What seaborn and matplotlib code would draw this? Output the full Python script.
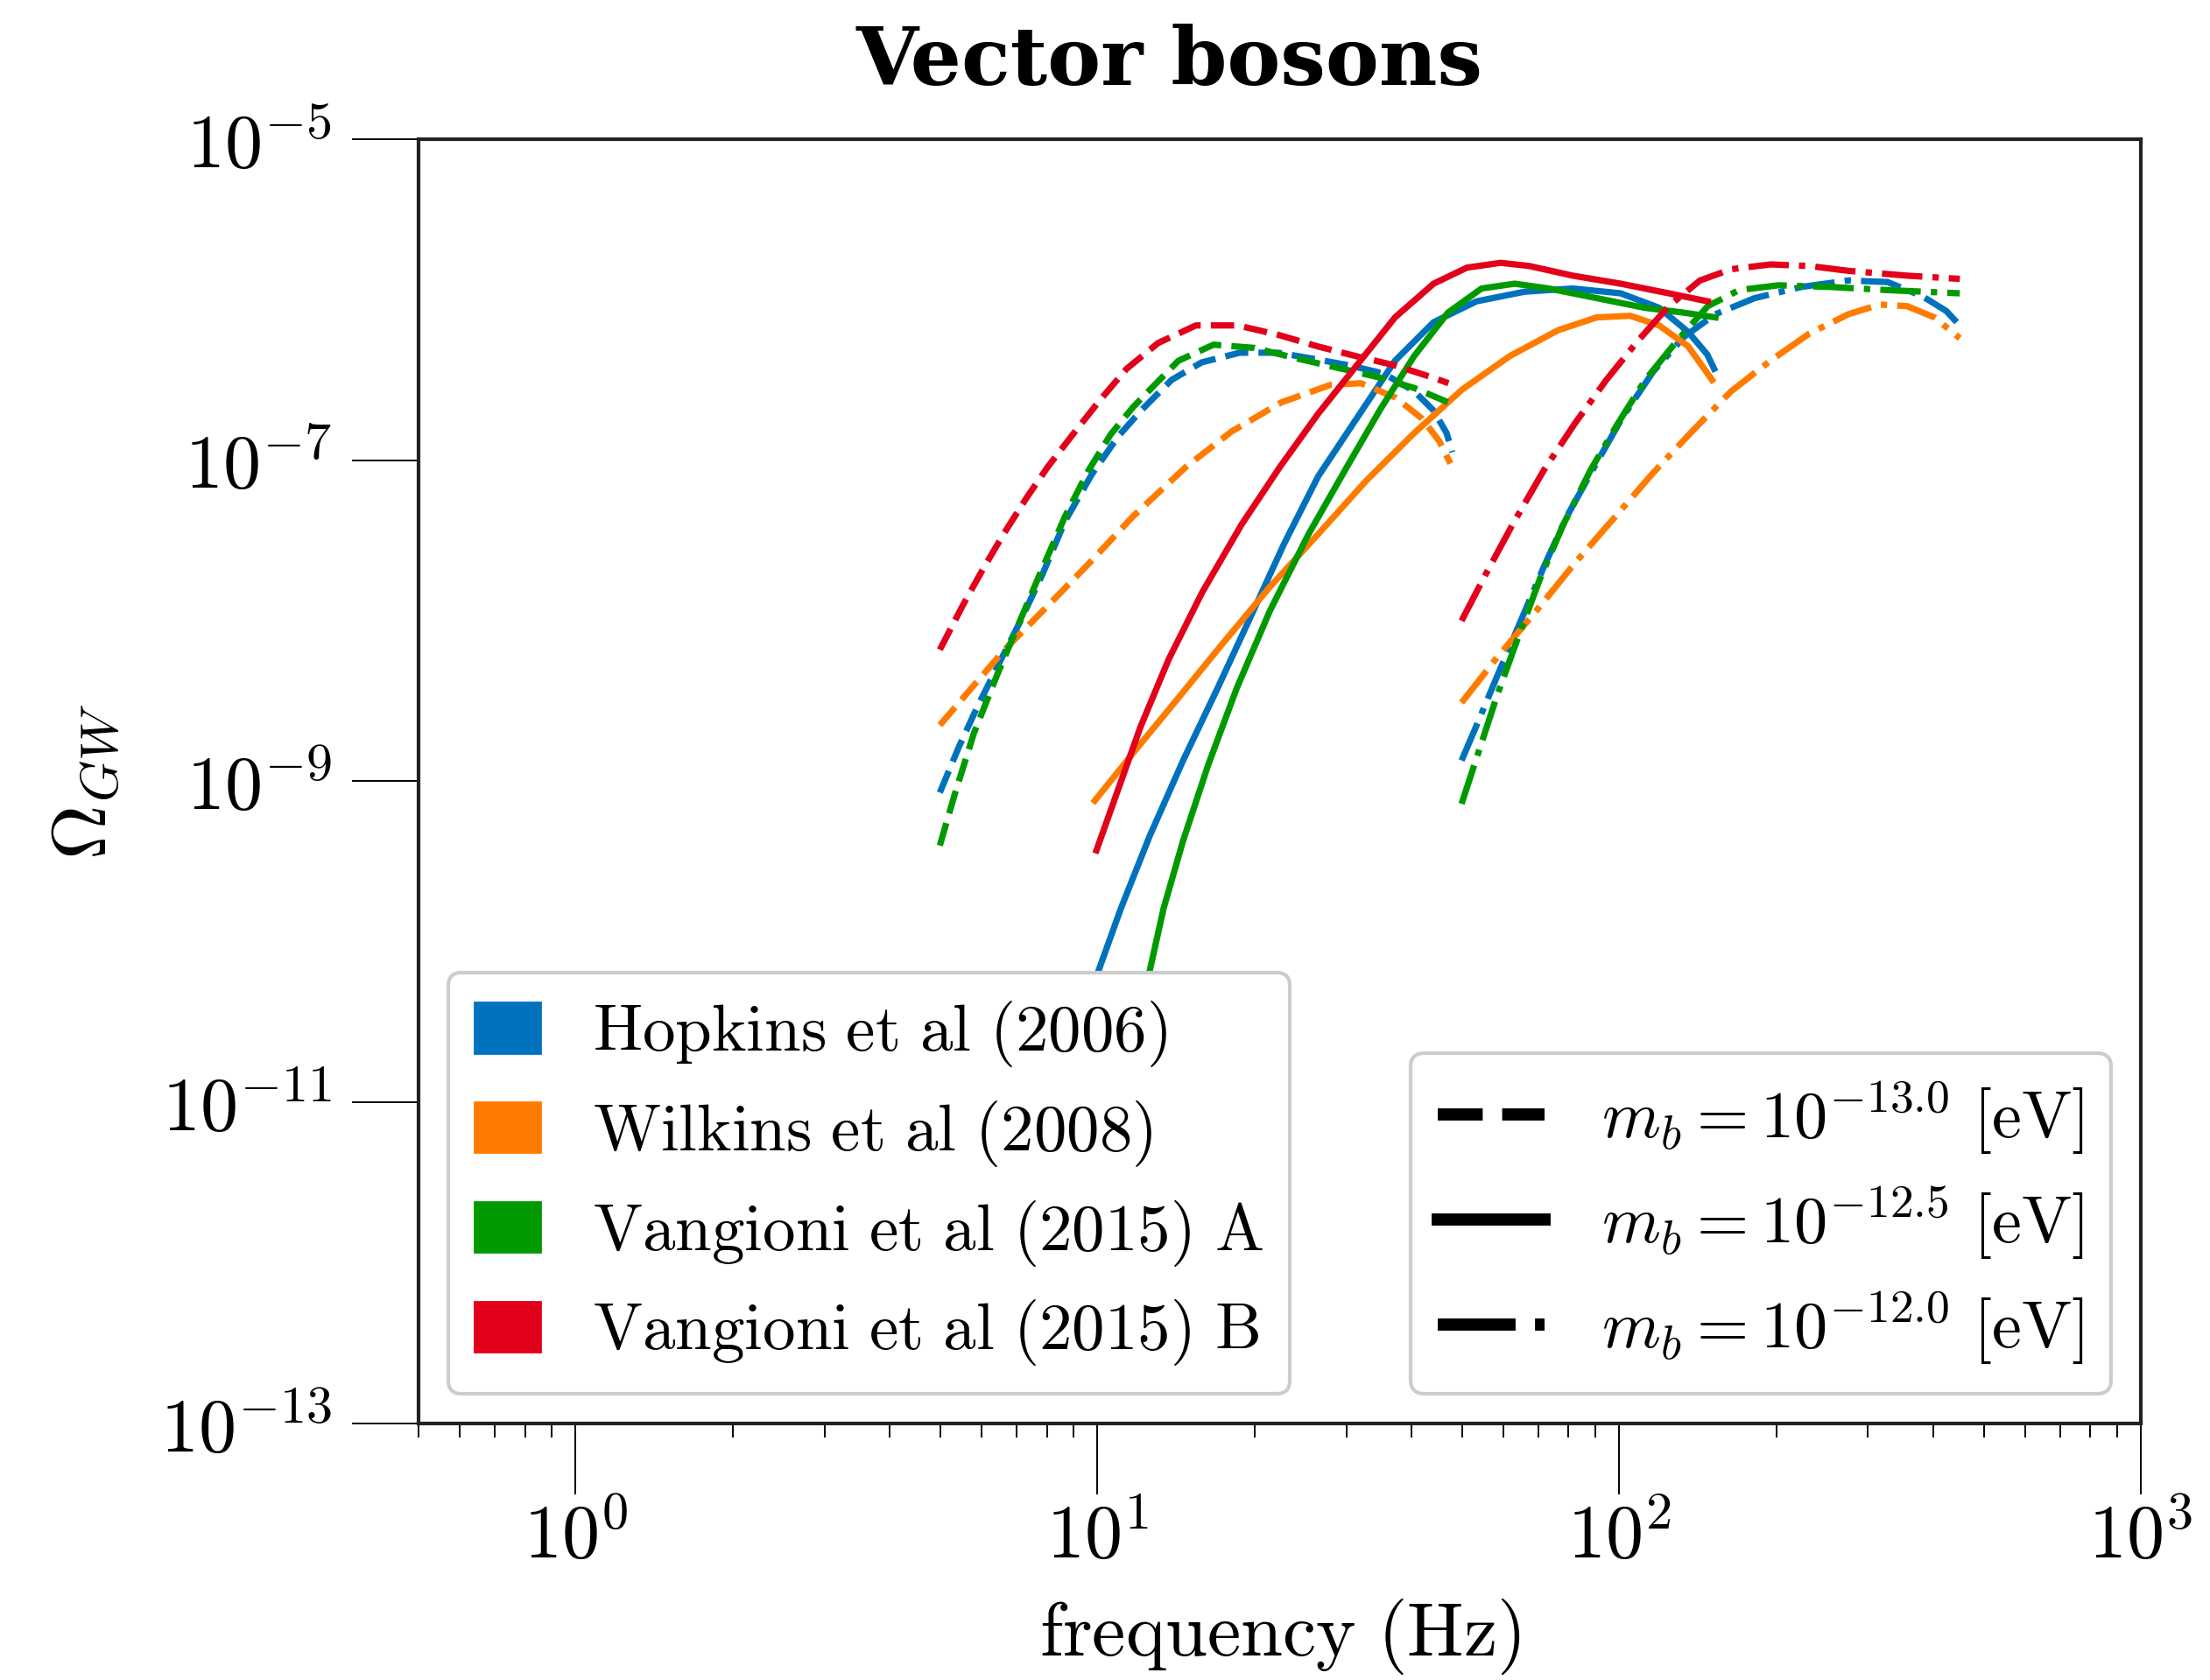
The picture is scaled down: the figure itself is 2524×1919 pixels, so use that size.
import numpy as np
import pandas as pd
import matplotlib
matplotlib.use("Agg")
import matplotlib.pyplot as plt
from matplotlib.patches import Patch
from matplotlib.lines import Line2D
from matplotlib.ticker import NullLocator
import seaborn as sns

# ---------------- data (log10 of Omega_GW) ----------------
models = ["Hopkins et al (2006)", "Wilkins et al (2008)",
          "Vangioni et al (2015) A", "Vangioni et al (2015) B"]
masses = ["-13.0", "-12.5", "-12.0"]

# m_b = 1e-13.0 eV (dashed)
hop_130_f = [4.99, 5.42, 5.90, 6.47, 7.10, 7.85, 8.67, 9.75, 10.97, 12.13, 13.87, 15.85,
             18.75, 22.2, 26.2, 30.5, 35.4, 40.5, 44.1, 46.7, 47.9]
hop_130_log = [-9.07, -8.79, -8.53, -8.27, -8.01, -7.71, -7.38, -7.09, -6.85, -6.69, -6.50, -6.39,
               -6.33, -6.33, -6.37, -6.41, -6.46, -6.57, -6.69, -6.83, -6.95]
wil_130_f = [4.99, 5.70, 6.64, 7.85, 9.59, 11.7, 14.8, 18.1, 22.5, 28.0, 32.0, 37.3, 41.9, 45.2, 47.5]
wil_130_log = [-8.65, -8.43, -8.18, -7.94, -7.65, -7.35, -7.04, -6.82, -6.64, -6.53, -6.52,
               -6.61, -6.74, -6.88, -7.02]
vaA_130_f = [4.99, 5.33, 5.80, 6.42, 6.98, 7.71, 8.67, 9.59, 10.6, 11.7, 12.97, 14.3, 16.7,
             20.0, 23.7, 28.5, 34.3, 40.5, 47.1]
vaA_130_log = [-9.40, -9.08, -8.70, -8.34, -8.06, -7.73, -7.35, -7.07, -6.84, -6.67, -6.52,
               -6.38, -6.28, -6.30, -6.36, -6.42, -6.48, -6.55, -6.64]
vaB_130_f = [4.99, 5.53, 6.08, 6.64, 7.33, 8.04, 8.97, 10.09, 11.38, 13.07, 15.45, 18.58,
             22.3, 26.4, 31.2, 37.3, 44.4, 47.1]
vaB_130_log = [-8.18, -7.90, -7.66, -7.45, -7.23, -7.04, -6.84, -6.63, -6.43, -6.27, -6.16,
               -6.16, -6.22, -6.29, -6.35, -6.41, -6.49, -6.52]

# m_b = 1e-12.5 eV (solid)
hop_125_f = [10.0, 11.1, 12.6, 14.6, 17.0, 19.7, 22.8, 26.5, 31.4, 37.2, 44.1, 53.3, 65.9,
             81.5, 100.7, 119.3, 135.6, 147.5, 152.1]
hop_125_log = [-10.20, -9.79, -9.34, -8.87, -8.42, -7.97, -7.52, -7.10, -6.74, -6.38, -6.14,
               -6.01, -5.95, -5.93, -5.96, -6.05, -6.20, -6.34, -6.43]
wil_125_f = [9.89, 11.8, 14.3, 17.3, 21.4, 26.5, 32.7, 40.5, 50.0, 61.8, 76.4, 90.6, 105.0,
             119.3, 135.6, 150.8]
wil_125_log = [-9.12, -8.81, -8.48, -8.15, -7.79, -7.46, -7.13, -6.83, -6.56, -6.35, -6.19,
               -6.11, -6.10, -6.16, -6.29, -6.50]
vaA_125_f = [10.0, 11.2, 12.6, 13.4, 14.6, 16.3, 18.5, 21.4, 25.4, 30.1, 34.9, 40.5, 47.0,
             54.5, 63.1, 73.3, 90.6, 111.9, 132.7, 153.0]
vaA_125_log = [-11.50, -10.80, -10.18, -9.79, -9.37, -8.90, -8.42, -7.94, -7.46, -7.04, -6.68,
               -6.35, -6.08, -5.93, -5.90, -5.93, -5.99, -6.05, -6.08, -6.11]
vaB_125_f = [9.96, 10.88, 12.1, 13.7, 15.9, 18.9, 22.4, 26.5, 31.4, 37.2, 44.1, 51.1, 59.3,
             67.3, 81.5, 100.7, 124.5, 147.9]
vaB_125_log = [-9.43, -9.08, -8.66, -8.24, -7.82, -7.40, -7.04, -6.71, -6.41, -6.11, -5.90,
               -5.80, -5.77, -5.79, -5.85, -5.90, -5.96, -6.01]

# m_b = 1e-12.0 eV (dash-dot)
hop_120_f = [49.9, 53.5, 58.3, 64.6, 71.6, 79.4, 89.7, 101.2, 116.1, 133.3, 153.0, 181.9,
             223.9, 275.2, 327.2, 382.2, 423.6, 449.8]
hop_120_log = [-8.87, -8.64, -8.35, -8.01, -7.67, -7.35, -7.04, -6.74, -6.45, -6.23, -6.09,
               -5.99, -5.92, -5.88, -5.89, -5.98, -6.07, -6.16]
wil_120_f = [49.9, 58.3, 69.3, 82.3, 97.8, 116.1, 138.0, 164.0, 195.0, 231.7, 275.2, 316.0,
             356.5, 402.0, 449.8]
wil_120_log = [-8.51, -8.23, -7.94, -7.64, -7.36, -7.08, -6.82, -6.57, -6.38, -6.21, -6.09,
               -6.03, -6.04, -6.11, -6.24]
vaA_120_f = [49.9, 53.5, 58.3, 63.6, 70.5, 78.2, 88.2, 99.5, 112.2, 128.8, 147.9, 169.8,
             201.8, 252.5, 327.2, 449.8]
vaA_120_log = [-9.14, -8.84, -8.47, -8.13, -7.74, -7.40, -7.06, -6.77, -6.50, -6.26, -6.04,
               -5.94, -5.91, -5.92, -5.94, -5.96]
vaB_120_f = [49.9, 55.3, 62.5, 71.8, 82.3, 94.5, 108.4, 124.5, 142.9, 164.0, 195.0, 231.7,
             275.2, 356.5, 449.8]
vaB_120_log = [-8.00, -7.72, -7.40, -7.06, -6.77, -6.50, -6.26, -6.04, -5.88, -5.81, -5.78,
               -5.79, -5.82, -5.85, -5.87]

xtick_values = [1e0, 1e1, 1e2, 1e3]
xtick_labels = [r"$10^{0}$", r"$10^{1}$", r"$10^{2}$", r"$10^{3}$"]
ytick_values = [1e-13, 1e-11, 1e-9, 1e-7, 1e-5]
ytick_labels = [r"$10^{-13}$", r"$10^{-11}$", r"$10^{-9}$", r"$10^{-7}$", r"$10^{-5}$"]

mass_labels = [r"$m_b = 10^{-13.0}\ [\mathrm{eV}]$",
               r"$m_b = 10^{-12.5}\ [\mathrm{eV}]$",
               r"$m_b = 10^{-12.0}\ [\mathrm{eV}]$"]

# ---------------- build long table ----------------
series = {
    (models[0], masses[0]): (hop_130_f, hop_130_log),
    (models[1], masses[0]): (wil_130_f, wil_130_log),
    (models[2], masses[0]): (vaA_130_f, vaA_130_log),
    (models[3], masses[0]): (vaB_130_f, vaB_130_log),
    (models[0], masses[1]): (hop_125_f, hop_125_log),
    (models[1], masses[1]): (wil_125_f, wil_125_log),
    (models[2], masses[1]): (vaA_125_f, vaA_125_log),
    (models[3], masses[1]): (vaB_125_f, vaB_125_log),
    (models[0], masses[2]): (hop_120_f, hop_120_log),
    (models[1], masses[2]): (wil_120_f, wil_120_log),
    (models[2], masses[2]): (vaA_120_f, vaA_120_log),
    (models[3], masses[2]): (vaB_120_f, vaB_120_log),
}
rows = []
for (model, mass), (fs, logs) in series.items():
    for f, lg in zip(fs, logs):
        rows.append({"model": model, "mass": mass, "f": f, "omega": 10.0 ** lg})
df = pd.DataFrame(rows)

colors = {models[0]: "#0072bd", models[1]: "#ff7b00",
          models[2]: "#009a00", models[3]: "#e3001a"}
dash_styles = {"-13.0": (3.7, 1.6), "-12.5": "", "-12.0": (6.4, 1.6, 1.0, 1.6)}

# ---------------- figure ----------------
plt.rcParams["mathtext.fontset"] = "cm"
plt.rcParams["font.family"] = ["DejaVu Serif"]

DPI = 200
fig = plt.figure(figsize=(2524 / DPI, 1919 / DPI), dpi=DPI)
ax = fig.add_axes([478 / 2524, 1 - 1626 / 1919, (2445 - 478) / 2524, (1626 - 159) / 1919])

sns.lineplot(data=df, x="f", y="omega", hue="model", style="mass",
             hue_order=models, style_order=masses, palette=colors,
             dashes=dash_styles, estimator=None, sort=True, lw=2.6,
             legend=False, ax=ax)
for ln in ax.get_lines():
    ln.set_solid_joinstyle("round")
    ln.set_dash_joinstyle("round")

ax.set_xscale("log")
ax.set_yscale("log")
ax.set_xlim(0.5, 1000)
ax.set_ylim(1e-13, 1e-5)

ax.set_xticks(xtick_values, labels=xtick_labels)
ax.set_yticks(ytick_values, labels=ytick_labels)
ax.yaxis.set_minor_locator(NullLocator())

ax.tick_params(axis="y", which="major", direction="out", length=27.5, width=0.7,
               pad=8, labelsize=31)
ax.tick_params(axis="x", which="major", direction="out", length=29, width=0.7,
               pad=3, labelsize=31)
ax.tick_params(axis="x", which="minor", direction="out", length=5.8, width=0.7)
for s in ax.spines.values():
    s.set_linewidth(1.5)
    s.set_color("#222222")

ax.set_xlabel(r"$\mathrm{frequency\ (Hz)}$", fontsize=31)
ax.set_ylabel(r"$\Omega_{GW}$", fontsize=31)
ax.xaxis.set_label_coords(0.5, -0.135)
ax.yaxis.set_label_coords(-0.172, 0.5)

fig.text(0.529, 0.9495, "Vector bosons", ha="center", va="baseline",
         fontsize=33, fontweight="bold", family="DejaVu Serif")

# ---------------- legends ----------------
color_handles = [Patch(facecolor=colors[m], edgecolor=colors[m]) for m in models]
color_labels = [r"$\mathrm{" + m.replace(" ", r"\ ") + "}$" for m in models]
leg1 = ax.legend(color_handles, color_labels, loc="lower left", fontsize=27,
                 handlelength=1.0, handleheight=0.8, handletextpad=0.8,
                 labelspacing=0.45, borderpad=0.4, borderaxespad=0.45,
                 fancybox=True, framealpha=1.0, edgecolor="0.8")
leg1.get_frame().set_linewidth(1.5)
ax.add_artist(leg1)

line_handles = [Line2D([], [], color="k", lw=5, dashes=dash_styles[m]) if dash_styles[m] != ""
                else Line2D([], [], color="k", lw=5, ls="-") for m in masses]
leg2 = ax.legend(line_handles, mass_labels, loc="lower right", fontsize=27.5,
                 handlelength=1.6, handletextpad=0.85, labelspacing=0.42,
                 borderpad=0.4, borderaxespad=0.45,
                 fancybox=True, framealpha=1.0, edgecolor="0.8")
leg2.get_frame().set_linewidth(1.5)

fig.savefig("out.png", dpi=DPI)
